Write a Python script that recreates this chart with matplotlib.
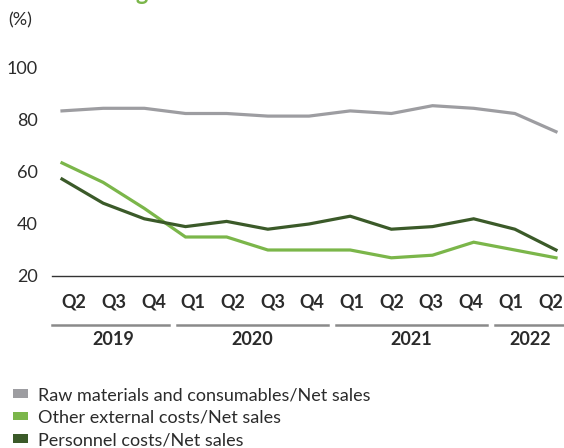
import matplotlib.pyplot as plt
from matplotlib.patches import Patch
from matplotlib.transforms import blended_transform_factory

# data
quarters = ["Q2", "Q3", "Q4", "Q1", "Q2", "Q3", "Q4", "Q1", "Q2", "Q3", "Q4", "Q1", "Q2"]
years = ["2019", "2020", "2021", "2022"]
year_quarters = [3, 4, 4, 2]
raw_materials = [83.5, 84.5, 84.5, 82.5, 82.5, 81.5, 81.5, 83.5, 82.5, 85.5, 84.5, 82.5, 75.5]
other_external = [63.5, 56, 46, 35, 35, 30, 30, 30, 27, 28, 33, 30, 27]
personnel = [57.3, 48, 42, 39, 41, 38, 40, 43, 38, 39, 42, 38, 30]
series_names = ["Raw materials and consumables/Net sales",
                "Other external costs/Net sales",
                "Personnel costs/Net sales"]
colors = ["#9d9da1", "#7bb64a", "#3b5a29"]

plt.rcParams['font.family'] = ['Lato', 'DejaVu Sans']
txt = "#2b2b2b"
fs = 13

fig = plt.figure(figsize=(5.64, 4.48), dpi=100)
rect = [52 / 564, 172 / 448, 512 / 564, 208 / 448]
ax = fig.add_axes(rect)

x = list(range(len(quarters)))
for vals, c in zip([raw_materials, other_external, personnel], colors):
    ax.plot(x, vals, color=c, linewidth=2.3, solid_joinstyle='miter')

ax.set_xlim(-0.243, 12.194)
ax.set_ylim(20, 100)
ax.set_yticks([20, 40, 60, 80, 100])
ax.tick_params(axis='y', length=0, pad=10, labelsize=fs, labelcolor=txt)
ax.set_xticks([])
for s in ["top", "right", "left"]:
    ax.spines[s].set_visible(False)
ax.spines["bottom"].set_color("#333333")
ax.spines["bottom"].set_linewidth(1.0)

# category axis for the quarter / year labels
axl = fig.add_axes(rect, frameon=False)
axl.set_xlim(-0.554, 12.34)
axl.set_ylim(0, 1)
axl.set_xticks([])
axl.set_yticks([])
tr = blended_transform_factory(axl.transData, fig.transFigure)
for i, q in enumerate(quarters):
    axl.text(i, 1 - 302 / 448, q, transform=tr, ha='center', va='center',
             fontsize=fs, fontweight='bold', color=txt)

start = 0
lo, hi = axl.get_xlim()
for yr, n in zip(years, year_quarters):
    end = start + n - 1
    a = lo if start == 0 else start - 0.4
    b = hi if end == len(quarters) - 1 else end + 0.4
    axl.plot([a, b], [1 - 325 / 448] * 2, transform=tr, color="#8a8a8a",
             linewidth=1.8, clip_on=False)
    axl.text((start + end) / 2, 1 - 339 / 448, yr, transform=tr, ha='center',
             va='center', fontsize=fs, fontweight='bold', color=txt)
    start += n

fig.text(8 / 564, 1 - 20 / 448, "(%)", ha='left', va='center', fontsize=fs, color=txt)
fig.text(4 / 564, 1.0, "Costs relating to net sales", ha='left', va='baseline',
         fontsize=17, fontweight='bold', color="#7bb64a")

handles = [Patch(facecolor=c, edgecolor='none') for c in colors]
fig.legend(handles, series_names, loc='upper left', bbox_to_anchor=(4 / 564, 1 - 378 / 448),
           frameon=False, fontsize=fs, handlelength=0.85, handleheight=0.35,
           handletextpad=0.55, labelspacing=0.36, borderpad=0, labelcolor=txt)

fig.savefig("out.png", dpi=100)
